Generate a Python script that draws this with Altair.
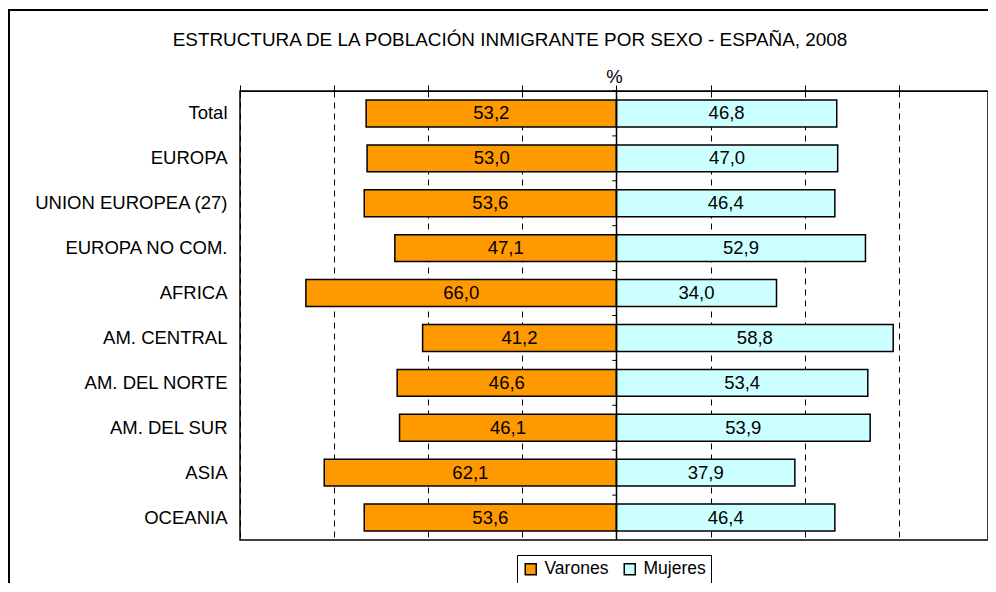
import altair as alt
import pandas as pd

categories = ["Total", "EUROPA", "UNION EUROPEA (27)", "EUROPA NO COM.", "AFRICA",
              "AM. CENTRAL", "AM. DEL NORTE", "AM. DEL SUR", "ASIA", "OCEANIA"]
varones = [53.2, 53.0, 53.6, 47.1, 66.0, 41.2, 46.6, 46.1, 62.1, 53.6]
mujeres = [46.8, 47.0, 46.4, 52.9, 34.0, 58.8, 53.4, 53.9, 37.9, 46.4]
series = ["Varones", "Mujeres"]
colors = ["#FF9900", "#CCFFFF"]
title_text = "ESTRUCTURA DE LA POBLACIÓN INMIGRANTE POR SEXO - ESPAÑA, 2008"

rows = []
for c, v, m in zip(categories, varones, mujeres):
    rows.append({"cat": c, "sexo": "Varones", "valor": v, "sign": -1})
    rows.append({"cat": c, "sexo": "Mujeres", "valor": m, "sign": 1})
df = pd.DataFrame(rows)

FONT = "Liberation Sans"
FS = 18.5

yscale = alt.Scale(domain=categories, paddingInner=0.4, paddingOuter=0.2)
xscale = alt.Scale(domain=[-80, 78.94], nice=False, zero=False)

base = alt.Chart(df).transform_calculate(
    signed="datum.valor * datum.sign",
    mid="datum.valor * datum.sign / 2",
    zero="0",
    label="replace(format(datum.valor, '.1f'), '.', ',')",
)

bars = base.mark_bar(stroke="black", strokeWidth=1.5).encode(
    x=alt.X("signed:Q", scale=xscale,
            axis=alt.Axis(orient="top", values=list(range(-80, 61, 20)), labels=False,
                          ticks=True, tickSize=6, tickColor="black", tickWidth=1,
                          domain=True, domainColor="black", domainWidth=1,
                          grid=True, gridColor="black", gridDash=[6, 5], gridWidth=1,
                          title="%", titleFontSize=FS, titleFontWeight="normal",
                          titleColor="black", titleBaseline="middle", titleY=-15,
                          titleFont=FONT)),
    x2="zero:Q",
    y=alt.Y("cat:N", scale=yscale, sort=categories,
            axis=alt.Axis(title=None, ticks=False, domain=False, labelFontSize=FS,
                          labelColor="black", labelPadding=13, labelFont=FONT,
                          labelLimit=400)),
    color=alt.Color("sexo:N", scale=alt.Scale(domain=series, range=colors),
                    legend=alt.Legend(title=None, orient="none", legendX=277, legendY=464,
                                      direction="horizontal", strokeColor="black",
                                      fillColor="white", padding=5, symbolType="square",
                                      symbolSize=121, symbolStrokeColor="black",
                                      symbolStrokeWidth=1.5, labelFontSize=17.5,
                                      labelFont=FONT, labelColor="black", labelOffset=5,
                                      columnPadding=12)),
)

texts = base.mark_text(fontSize=FS, font=FONT, color="black", baseline="middle").encode(
    x=alt.X("mid:Q", scale=xscale),
    y=alt.Y("cat:N", scale=yscale, sort=categories),
    text="label:N",
)

center = alt.Chart(pd.DataFrame({"z": [0]})).mark_rule(color="black", strokeWidth=1.5).encode(
    x=alt.X("z:Q", scale=xscale)
)

tick_df = pd.DataFrame({"cat": categories, "a": [-0.9] * len(categories), "b": [0] * len(categories)})
cticks = alt.Chart(tick_df).mark_rule(color="black", strokeWidth=1, yOffset=-22.45).encode(
    x=alt.X("a:Q", scale=xscale),
    x2="b:Q",
    y=alt.Y("cat:N", scale=yscale, sort=categories),
)

title_mark = alt.Chart(pd.DataFrame({"t": [title_text]})).mark_text(
    fontSize=18.9, font=FONT, color="black", align="center", baseline="middle"
).encode(x=alt.value(270), y=alt.value(-51), text="t:N")

frame_top = alt.Chart(pd.DataFrame({"z": [0]})).mark_rule(color="black", strokeWidth=2).encode(
    x=alt.value(-232), x2=alt.value(800), y=alt.value(-81)
)
frame_left = alt.Chart(pd.DataFrame({"z": [0]})).mark_rule(color="black", strokeWidth=2).encode(
    x=alt.value(-231), y=alt.value(-82), y2=alt.value(600)
)

chart = alt.layer(bars, texts, center, cticks, title_mark, frame_top, frame_left).properties(
    width=748, height=449,
    autosize=alt.AutoSizeParams(type="none"),
    padding={"left": 232, "top": 83, "right": 0, "bottom": 43},
).configure(font=FONT).configure_view(stroke="black", strokeWidth=1.5)

chart.save("out.html", embed_options={"renderer": "svg", "actions": False})
